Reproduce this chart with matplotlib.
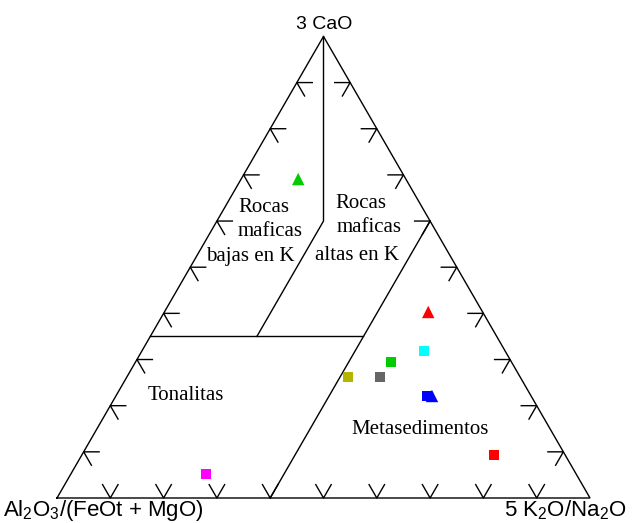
import numpy as np
import matplotlib
matplotlib.use("Agg")
import matplotlib.pyplot as plt

plt.rcParams['font.family'] = ['Liberation Sans', 'DejaVu Sans']
plt.rcParams['mathtext.fontset'] = 'custom'
plt.rcParams['mathtext.rm'] = 'Liberation Sans'
plt.rcParams['mathtext.it'] = 'Liberation Sans'

# samples: (Al2O3/(FeOt+MgO), 5K2O/Na2O, 3CaO) fractions
sq_a = [0.152, 0.226, 0.323, 0.263, 0.195, 0.134, 0.694]
sq_b = [0.530, 0.479, 0.415, 0.475, 0.584, 0.773, 0.254]
sq_c = [0.318, 0.295, 0.262, 0.262, 0.221, 0.093, 0.052]
sq_col = ['#00ffff', '#00cc00', '#b5b500', '#666666', '#0000ff', '#ff0000', '#ff00ff']

tri_a = [0.202, 0.102, 0.186]
tri_b = [0.107, 0.495, 0.593]
tri_c = [0.691, 0.403, 0.221]
tri_col = ['#00cc00', '#ff0000', '#0000ff']

# field boundaries (a, b, c)
line_left = [(0.0, 0.0, 1.0), (0.2, 0.2, 0.6), (0.45, 0.2, 0.35)]
line_horiz = [(0.65, 0.0, 0.35), (0.25, 0.4, 0.35)]
line_right = [(0.6, 0.4, 0.0), (0.0, 0.4, 0.6)]

ticks = np.arange(1, 10) / 10.0


def tern(a, b, c):
    a, b, c = np.asarray(a, float), np.asarray(b, float), np.asarray(c, float)
    s = a + b + c
    b, c = b / s, c / s
    return b + c / 2, c * np.sqrt(3) / 2


fig = plt.figure(figsize=(6.33, 5.23), dpi=100)
ax = fig.add_axes([0, 0, 1, 1])
ax.set_xlim(-57 / 533, 576 / 533)
ax.set_ylim(-25 / 533, 498 / 533)
ax.axis('off')

lw = 1.0
h = np.sqrt(3) / 2
ax.plot([0, 1, 0.5, 0], [0, 0, h, 0], color='k', lw=lw, solid_joinstyle='miter')

for pts in (line_left, line_horiz, line_right):
    a, b, c = zip(*pts)
    x, y = tern(a, b, c)
    ax.plot(x, y, color='k', lw=lw)

# tick marks: two short arms pointing inside along the other edges
t = 0.029
for v in ticks:
    # bottom edge
    x0 = v
    ax.plot([x0 - 0.5 * t, x0, x0 + 0.5 * t], [h * t, 0, h * t], color='k', lw=lw)
    # left edge
    x0, y0 = 0.5 * v, h * v
    ax.plot([x0 + t, x0, x0 + 0.5 * t], [y0, y0, y0 - h * t], color='k', lw=lw)
    # right edge
    x0, y0 = 1 - 0.5 * v, h * v
    ax.plot([x0 - t, x0, x0 - 0.5 * t], [y0, y0, y0 - h * t], color='k', lw=lw)

x, y = tern(sq_a, sq_b, sq_c)
ax.scatter(x, y, marker='s', s=55, c=sq_col, linewidths=0, zorder=3)
x, y = tern(tri_a, tri_b, tri_c)
ax.scatter(x, y, marker='^', s=80, c=tri_col, linewidths=0, zorder=3)

px = lambda xp, yp: ((xp - 57) / 533, (498 - yp) / 533)

# apex labels
ax.text(*px(324, 29), '3 CaO', ha='center', va='baseline', fontsize=14)
ax.text(*px(3, 516), r'Al$_2$O$_3$/(FeOt + MgO)', ha='left', va='baseline', fontsize=16)
ax.text(*px(626, 516), r'5 K$_2$O/Na$_2$O', ha='right', va='baseline', fontsize=16)

# field names
serif = dict(family='Liberation Serif', fontsize=15, va='center')
for s, (xp, yp) in [('Rocas', (238, 208)), ('maficas', (238, 232)), ('bajas en K', (206, 257)),
                    ('Rocas', (335, 203)), ('maficas', (337, 228)), ('altas en K', (315, 255)),
                    ('Tonalitas', (148, 396)), ('Metasedimentos', (351, 429))]:
    ax.text(*px(xp, yp), s, ha='left', **serif)

fig.savefig('out.png', dpi=100)
